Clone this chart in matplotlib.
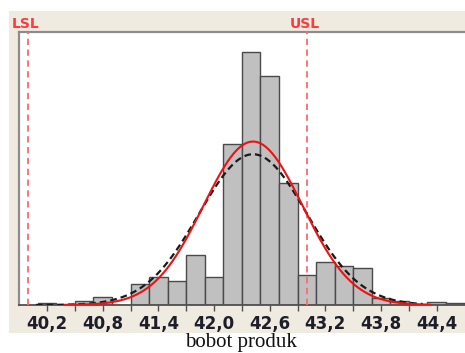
import numpy as np
import matplotlib
matplotlib.use("Agg")
import matplotlib.pyplot as plt
from matplotlib.patches import Rectangle
import matplotlib.transforms as mtransforms

# ---- data ----
bin_centers = [40.2, 40.4, 40.6, 40.8, 41.0, 41.2, 41.4, 41.6, 41.8, 42.0, 42.2,
               42.4, 42.6, 42.8, 43.0, 43.2, 43.4, 43.6, 43.8, 44.0, 44.2, 44.4, 44.6]
frequencies = [1, 0, 2, 4, 0, 10.5, 14, 12, 25, 14, 80.5,
               126.5, 114.5, 61, 15, 21.5, 19.5, 18.5, 3.5, 2, 0.5, 1.5, 1]
bin_width = 0.2

# overall (red, solid) and within (black, dashed) normal fits
red_mean, red_sigma, red_range = 42.42, 0.535, (40.39, 44.33)
blk_mean, blk_sigma, blk_range = 42.42, 0.58, (40.08, 44.25)

LSL, USL = 40.0, 43.0
tick_values = [40.2, 40.8, 41.4, 42.0, 42.6, 43.2, 43.8, 44.4]
tick_labels = ["40,2", "40,8", "41,4", "42,0", "42,6", "43,2", "43,8", "44,4"]
minor_ticks = [40.5, 41.1, 41.7, 42.3, 42.9, 43.5, 44.1]
xlabel = "bobot produk"

# ---- figure ----
W, H = 465, 353
fig = plt.figure(figsize=(W / 100, H / 100), dpi=100)
fig.patch.set_facecolor("white")

# beige panel
fig.patches.append(Rectangle((9 / W, 20 / H), 456 / W, 322 / H,
                             transform=fig.transFigure, facecolor="#EFEBE1",
                             edgecolor="none", zorder=-10))

ax = fig.add_axes([19 / W, 48 / H, 446 / W, 273 / H])
ax.set_zorder(1)
ax.set_facecolor("white")

ax.bar(bin_centers, frequencies, width=bin_width, color="#C0C0C0",
       edgecolor="#4a4a4a", linewidth=1.0, zorder=2)

area = sum(frequencies) * bin_width

def normal_curve(mean, sigma, rng):
    x = np.linspace(rng[0], rng[1], 400)
    y = area / (sigma * np.sqrt(2 * np.pi)) * np.exp(-0.5 * ((x - mean) / sigma) ** 2)
    return x, y

xb, yb = normal_curve(blk_mean, blk_sigma, blk_range)
ax.plot(xb, yb, color="#1a1a1a", lw=1.6, linestyle=(0, (3.0, 1.8)), zorder=4)
xr, yr = normal_curve(red_mean, red_sigma, red_range)
ax.plot(xr, yr, color="#EE1111", lw=1.5, zorder=5)

for v in (LSL, USL):
    ax.axvline(v, color="#FF6A6A", lw=1.3, linestyle=(0, (3.5, 2.5)), zorder=3)

ax.set_xlim(39.898, 44.705)
ax.set_ylim(0, 136.5)
ax.set_yticks([])
ax.set_xticks(tick_values)
ax.set_xticklabels(tick_labels)
ax.set_xticks(minor_ticks, minor=True)
ax.tick_params(axis="x", which="both", direction="out", length=4, width=1.0,
               color="#505050")
ax.tick_params(axis="x", which="major", pad=3, labelsize=12, labelcolor="#1e1e2a")
for lbl in ax.get_xticklabels():
    lbl.set_fontweight("bold")
    lbl.set_family("DejaVu Sans")

for s in ("left", "top"):
    ax.spines[s].set_color("#8c8c8c")
    ax.spines[s].set_linewidth(1.6)
ax.spines["bottom"].set_color("#505050")
ax.spines["bottom"].set_linewidth(1.3)
ax.spines["right"].set_visible(False)

trans = mtransforms.blended_transform_factory(ax.transData, fig.transFigure)
ax.text(LSL - 0.03, (H - 24) / H, "LSL", transform=trans, ha="center", va="center",
        color="#FF3B3B", fontsize=10, fontweight="bold", clip_on=False)
ax.text(USL - 0.02, (H - 24) / H, "USL", transform=trans, ha="center", va="center",
        color="#FF3B3B", fontsize=10, fontweight="bold", clip_on=False)

fig.text(241 / W, (H - 343) / H, xlabel, ha="center", va="center",
         family="Liberation Serif", fontsize=15, color="#111111")

fig.savefig("out.png", dpi=100, facecolor=fig.get_facecolor())
